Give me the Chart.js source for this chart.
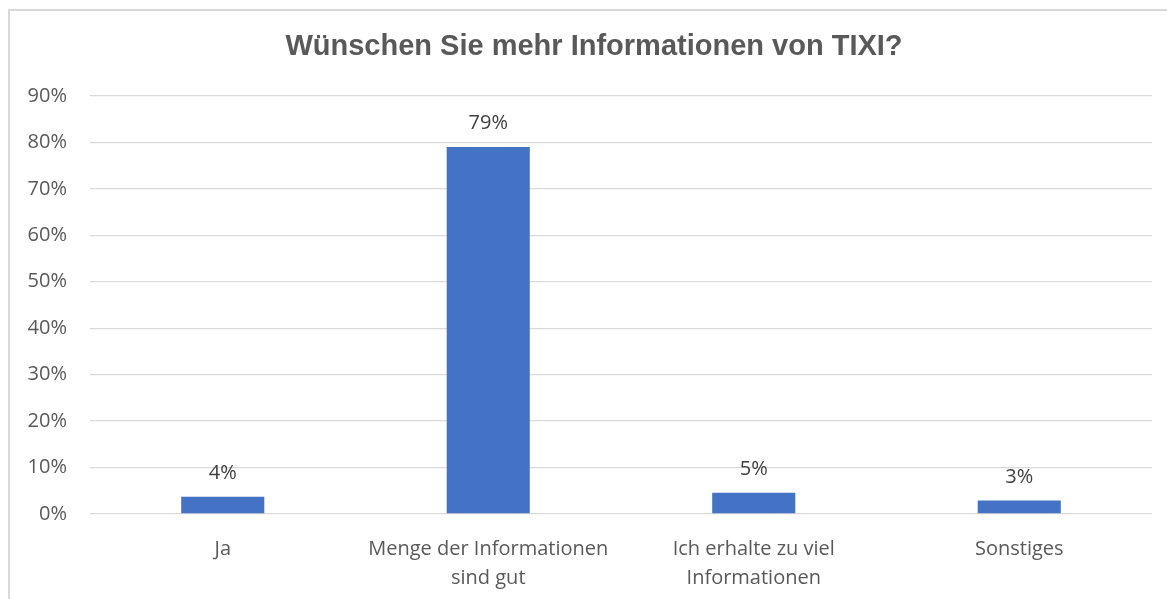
<!DOCTYPE html>
<html>
<head>
<meta charset="utf-8">
<script src="https://cdn.jsdelivr.net/npm/chart.js@4"></script>
<style>
  html, body { margin: 0; padding: 0; background: #fff; }
  #wrap { position: relative; width: 1167px; height: 599px; overflow: hidden; }
  #frame { position: absolute; left: 8px; top: 9px; width: 1170px; height: 600px;
           border-left: 2px solid #d9d9d9; border-top: 2px solid #d9d9d9; box-sizing: border-box; }
  canvas { position: absolute; left: 0; top: 0; }
</style>
</head>
<body>
<div id="wrap">
  <div id="frame"></div>
  <canvas id="chart" width="1167" height="599"></canvas>
</div>
<script>
const chartTitle = 'Wünschen Sie mehr Informationen von TIXI?';
const categories = ['Ja', ['Menge der Informationen', 'sind gut'], ['Ich erhalte zu viel', 'Informationen'], 'Sonstiges'];
const values = [3.7, 79, 4.6, 2.9];
const valueLabels = ['4%', '79%', '5%', '3%'];
const yTicks = [0, 10, 20, 30, 40, 50, 60, 70, 80, 90];

const textColor = '#595959';
const fontName = "'Open Sans', 'Noto Sans', sans-serif";

// Titel (etwas rechts der Mitte wie im Original) + Beschriftung über den Balken
const barLabels = {
  id: 'barLabels',
  afterDatasetsDraw(chart) {
    const ctx = chart.ctx;
    const meta = chart.getDatasetMeta(0);
    ctx.save();
    ctx.font = "bold 29px 'Liberation Sans', Arial, sans-serif";
    ctx.fillStyle = textColor;
    ctx.textAlign = 'center';
    ctx.textBaseline = 'middle';
    ctx.fillText(chartTitle, 594, 47);

    ctx.font = '20px ' + fontName;
    ctx.fillStyle = '#404040';
    ctx.textBaseline = 'alphabetic';
    meta.data.forEach((bar, i) => {
      ctx.fillText(valueLabels[i], bar.x, bar.y - 18);
    });
    ctx.restore();
  }
};

new Chart(document.getElementById('chart'), {
  type: 'bar',
  data: {
    labels: categories,
    datasets: [{
      data: values,
      backgroundColor: '#4472c4',
      barPercentage: 1,
      categoryPercentage: 0.313
    }]
  },
  options: {
    responsive: false,
    animation: false,
    layout: { padding: { left: 0, right: 15, top: 96, bottom: 0 } },
    plugins: {
      legend: { display: false },
      tooltip: { enabled: false },
      title: { display: false }
    },
    scales: {
      x: {
        grid: { display: false, drawTicks: false },
        border: { display: false },
        ticks: {
          color: textColor,
          font: { family: fontName, size: 20, lineHeight: 1.45 },
          padding: 21,
          maxRotation: 0,
          autoSkip: false
        },
        afterFit(scale) { scale.height = 85; }
      },
      y: {
        min: 0,
        max: 90,
        afterBuildTicks(scale) { scale.ticks = yTicks.map(v => ({ value: v })); },
        grid: { color: '#d9d9d9', lineWidth: 1.3, drawTicks: false },
        border: { display: false },
        ticks: {
          color: textColor,
          font: { family: fontName, size: 20 },
          padding: 23,
          callback: v => v + '%'
        },
        afterFit(scale) { scale.width = 90; }
      }
    }
  },
  plugins: [barLabels]
});
</script>
</body>
</html>
